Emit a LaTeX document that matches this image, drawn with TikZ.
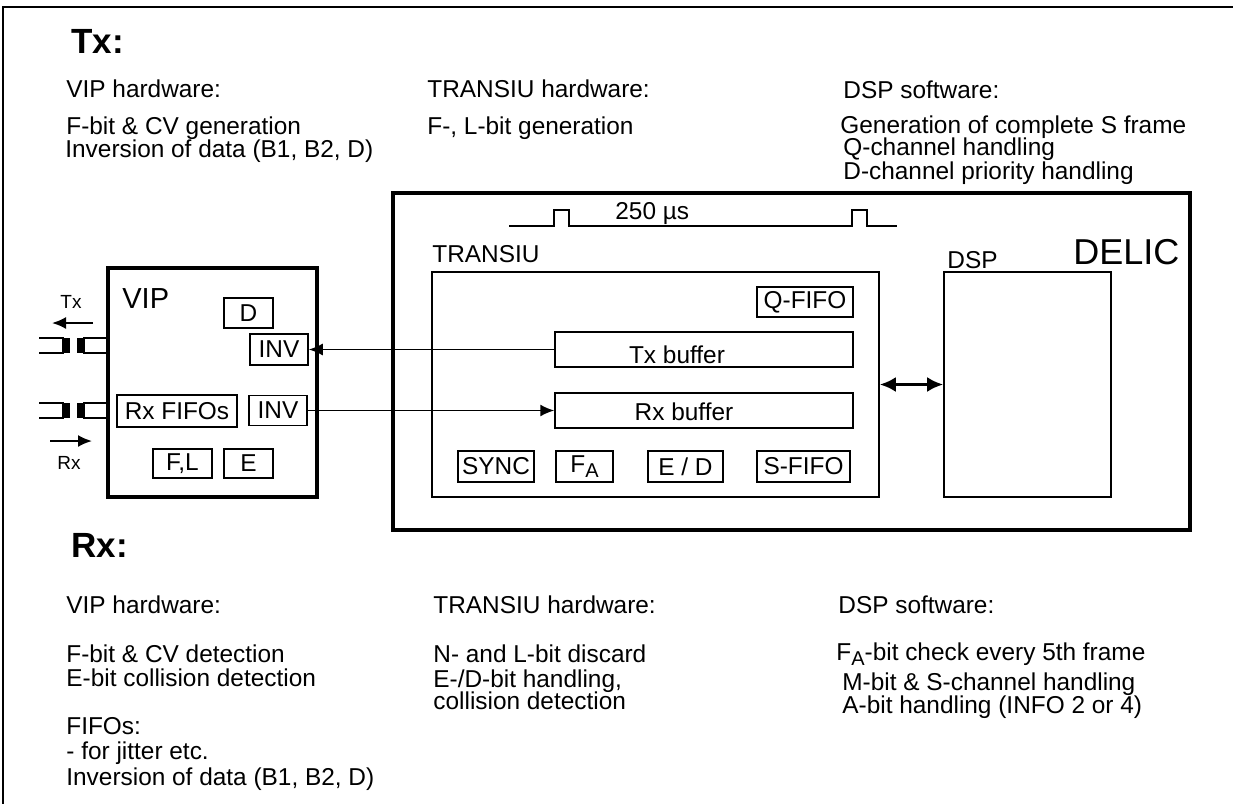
\documentclass[tikz,border=0pt]{standalone}
\usepackage{fontspec}
\setmainfont{Liberation Sans}
\usetikzlibrary{arrows.meta}

\newcommand{\lowA}{\raisebox{-0.45ex}{\fontsize{10}{10}\selectfont A}}

\begin{document}
\begin{tikzpicture}[x=0.5pt,y=-0.5pt,
  txt/.style={anchor=base west, inner sep=0pt, font=\fontsize{12.2}{14}\selectfont},
  head/.style={anchor=base west, inner sep=0pt, font=\fontsize{17.5}{20}\selectfont\bfseries},
  blk/.style={draw, line width=0.75pt, inner sep=0pt, font=\fontsize{12.2}{14}\selectfont},
  unit/.style={draw, line width=0.8pt, inner sep=0pt},
  chip/.style={draw, line width=2pt, inner sep=0pt},
  sig/.style={-{Latex[length=7pt,width=6pt]}, line width=0.8pt}]
  \useasboundingbox (0,0) rectangle (1233,804);

  % Frame
  \draw[line width=1pt] (3,804) -- (3,7) -- (1233,7);

  % Tx notes
  \node[head] (txhead) at (71,53) {Tx:};
  \node[txt] (txvip) at (66,97) {VIP hardware:};
  \node[txt] (txvip1) at (66,134) {F-bit \& CV generation};
  \node[txt] (txvip2) at (65,157) {Inversion of data (B1, B2, D)};
  \node[txt] (txtra) at (427,97) {TRANSIU hardware:};
  \node[txt] (txtra1) at (427,134) {F-, L-bit generation};
  \node[txt] (txdsp) at (843,98) {DSP software:};
  \node[txt] (txdsp1) at (840,133) {Generation of complete S frame};
  \node[txt] (txdsp2) at (843,155) {Q-channel handling};
  \node[txt] (txdsp3) at (843,179) {D-channel priority handling};

  % DELIC
  \node[chip, minimum width=398.5pt, minimum height=168.5pt] (delic) at (791.5,361.5) {};
  \node[anchor=base west, inner sep=0pt, font=\fontsize{18}{20}\selectfont] (delicl) at (1073,264) {DELIC};

  % Frame pulse
  \draw[line width=1pt] (509,226) -- (554,226) -- (554,210) -- (569,210) -- (569,226)
    -- (852,226) -- (852,210) -- (867,210) -- (867,226) -- (897,226);
  \node[txt] (period) at (615,219) {250 µs};

  % TRANSIU
  \node[txt] (tral) at (432,262) {TRANSIU};
  \node[unit, minimum width=223.5pt, minimum height=112.5pt] (transiu) at (655.5,384.5) {};
  \node[blk, minimum width=48pt, minimum height=15pt] (qfifo) at (805,302) {Q-FIFO};
  \node[blk, minimum width=149pt, minimum height=17.5pt] (txbuf) at (704,349.5) {};
  \node[txt, anchor=center] (txbufl) at (677,355) {Tx buffer};
  \node[blk, minimum width=149pt, minimum height=17.5pt] (rxbuf) at (704,410.5) {};
  \node[txt, anchor=center] (rxbufl) at (684,412) {Rx buffer};
  \node[blk, minimum width=38pt, minimum height=15.5pt] (sync) at (496,466.5) {SYNC};
  \node[blk, minimum width=28.5pt, minimum height=15.5pt] (fa) at (584.5,466.5) {F\lowA};
  \node[blk, minimum width=37.5pt, minimum height=15.5pt] (ed) at (685.5,466.5) {E / D};
  \node[blk, minimum width=46.5pt, minimum height=15.5pt] (sfifo) at (803.5,466.5) {S-FIFO};

  % DSP
  \node[txt] (dspl) at (947,268) {DSP};
  \node[unit, minimum width=83.5pt, minimum height=112.5pt] (dsp) at (1027.5,384.5) {};
  \draw[{Latex[length=8pt,width=7.5pt]}-{Latex[length=8pt,width=7.5pt]}, line width=1.5pt] (transiu.east) -- (dsp.west);

  % VIP
  \node[chip, minimum width=104.5pt, minimum height=114.5pt] (vip) at (212.5,382.5) {};
  \node[anchor=base west, inner sep=0pt, font=\fontsize{14.5}{16}\selectfont] (vipl) at (122,308) {VIP};
  \node[blk, minimum width=24.5pt, minimum height=15pt] (dbox) at (248.5,313) {D};
  \node[blk, minimum width=29pt, minimum height=15.5pt] (invtx) at (279,349.5) {INV};
  \node[blk, minimum width=60pt, minimum height=16pt] (rxfifo) at (177,411) {Rx FIFOs};
  \node[blk, minimum width=29pt, minimum height=15pt] (invrx) at (278,410.5) {INV};
  \node[blk, minimum width=29.5pt, minimum height=14.5pt] (fl) at (182.5,463.5) {F,L};
  \node[blk, minimum width=24.5pt, minimum height=14.5pt] (ebox) at (248.5,463.5) {E};

  % Data paths
  \draw[sig] (txbuf.west) -- (invtx.east);
  \draw[sig] (invrx.east) -- (rxbuf.west);

  % Line interface
  \foreach \y in {345.5,410.5} {
    \draw[line width=0.75pt] (39,\y-7.5) -- (64,\y-7.5) (39,\y+7.5) -- (64,\y+7.5);
    \fill (62,\y-7.5) rectangle (70,\y+7.5);
    \fill (77,\y-7.5) rectangle (85,\y+7.5);
    \draw[line width=0.75pt] (83,\y-7.5) -- (108,\y-7.5) (83,\y+7.5) -- (108,\y+7.5);
  }
  \coordinate (txa) at (93,323);
  \coordinate (txb) at (52,323);
  \coordinate (rxa) at (50,441);
  \coordinate (rxb) at (92,441);
  \draw[sig, line width=1pt] (txa) -- (txb);
  \draw[sig, line width=1pt] (rxa) -- (rxb);
  \node[inner sep=0pt, font=\fontsize{9.5}{10}\selectfont] (txl) at (71,302) {Tx};
  \node[inner sep=0pt, font=\fontsize{9.5}{10}\selectfont] (rxl) at (69,463) {Rx};

  % Rx notes
  \node[head] (rxhead) at (71,557) {Rx:};
  \node[txt] (rxvip) at (66,613) {VIP hardware:};
  \node[txt] (rxvip1) at (66,662) {F-bit \& CV detection};
  \node[txt] (rxvip2) at (66,686) {E-bit collision detection};
  \node[txt] (rxvip3) at (66,734) {FIFOs:};
  \node[txt] (rxvip4) at (66,759) {- for jitter etc.};
  \node[txt] (rxvip5) at (66,785) {Inversion of data (B1, B2, D)};
  \node[txt] (rxtra) at (433,613) {TRANSIU hardware:};
  \node[txt] (rxtra1) at (433,662) {N- and L-bit discard};
  \node[txt] (rxtra2) at (433,687) {E-/D-bit handling,};
  \node[txt] (rxtra3) at (433,709) {collision detection};
  \node[txt] (rxdsp) at (838,613) {DSP software:};
  \node[txt] (rxdsp1) at (836,660) {F\lowA-bit check every 5th frame};
  \node[txt] (rxdsp2) at (842,690) {M-bit \& S-channel handling};
  \node[txt] (rxdsp3) at (842,713) {A-bit handling (INFO 2 or 4)};

\end{tikzpicture}
\end{document}
